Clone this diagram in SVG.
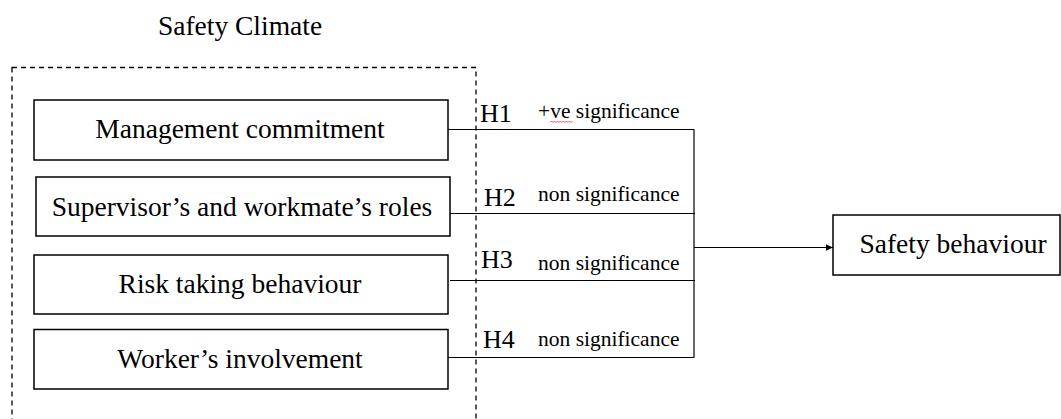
<svg xmlns="http://www.w3.org/2000/svg" width="1061" height="419" viewBox="0 0 1061 419">
<defs>
<style>
.box{fill:#fff;stroke:#000;stroke-width:1.5}
.lbl{font-family:'Liberation Serif',serif;font-size:27.5px;fill:#000;text-anchor:middle}
.h{font-family:'Liberation Serif',serif;font-size:26px;fill:#000}
.sig{font-family:'Liberation Serif',serif;font-size:21.5px;fill:#000}
.ln{fill:none;stroke:#000;stroke-width:1.2}
</style>
<marker id="arr" markerWidth="8" markerHeight="8" refX="7" refY="4" orient="auto" markerUnits="userSpaceOnUse">
<path d="M0,0.8 L7,4 L0,7.2 Z" fill="#000"/>
</marker>
</defs>
<rect width="1061" height="419" fill="#fff"/>
<g id="safety-climate">
<text class="lbl" x="240" y="35">Safety Climate</text>
<rect x="12" y="67.5" width="464" height="380" fill="none" stroke="#000" stroke-width="1.3" stroke-dasharray="5,4"/>
</g>
<g id="connectors">
<path class="ln" d="M448,129.5 H694"/>
<path class="ln" d="M450,213.5 H695"/>
<path class="ln" d="M450,280.5 H695"/>
<path class="ln" d="M448,357.5 H694"/>
<path class="ln" d="M694,129.5 V357.5"/>
<path class="ln" d="M694,247.5 H833" marker-end="url(#arr)"/>
<text class="h" x="480" y="122">H1</text>
<text class="sig" x="538" y="118">+ve significance</text>
<path d="M550,122.5 l1.5,-1.5 l1.5,1.5 l1.5,-1.5 l1.5,1.5 l1.5,-1.5 l1.5,1.5 l1.5,-1.5 l1.5,1.5 l1.5,-1.5 l1.5,1.5 l1.5,-1.5 l1.5,1.5 l1.5,-1.5 l1.5,1.5 l1.5,-1.5" fill="none" stroke="#e03030" stroke-width="0.8"/>
<text class="h" x="484" y="205.5">H2</text>
<text class="sig" x="538" y="200.5">non significance</text>
<text class="h" x="481" y="268">H3</text>
<text class="sig" x="538" y="270">non significance</text>
<text class="h" x="483" y="348">H4</text>
<text class="sig" x="538" y="346">non significance</text>
</g>
<g id="management-commitment">
<rect class="box" x="34" y="100" width="414" height="60"/>
<text class="lbl" x="240" y="138">Management commitment</text>
</g>
<g id="supervisor-roles">
<rect class="box" x="36" y="177" width="414" height="59"/>
<text class="lbl" x="242" y="215.5">Supervisor’s and workmate’s roles</text>
</g>
<g id="risk-taking">
<rect class="box" x="34" y="255" width="414" height="59"/>
<text class="lbl" x="240" y="293">Risk taking behaviour</text>
</g>
<g id="worker-involvement">
<rect class="box" x="34" y="329.5" width="414" height="59.5"/>
<text class="lbl" x="240" y="367.5">Worker’s involvement</text>
</g>
<g id="safety-behaviour">
<rect class="box" x="833" y="215" width="227" height="60"/>
<text class="lbl" x="953" y="253">Safety behaviour</text>
</g>
</svg>
